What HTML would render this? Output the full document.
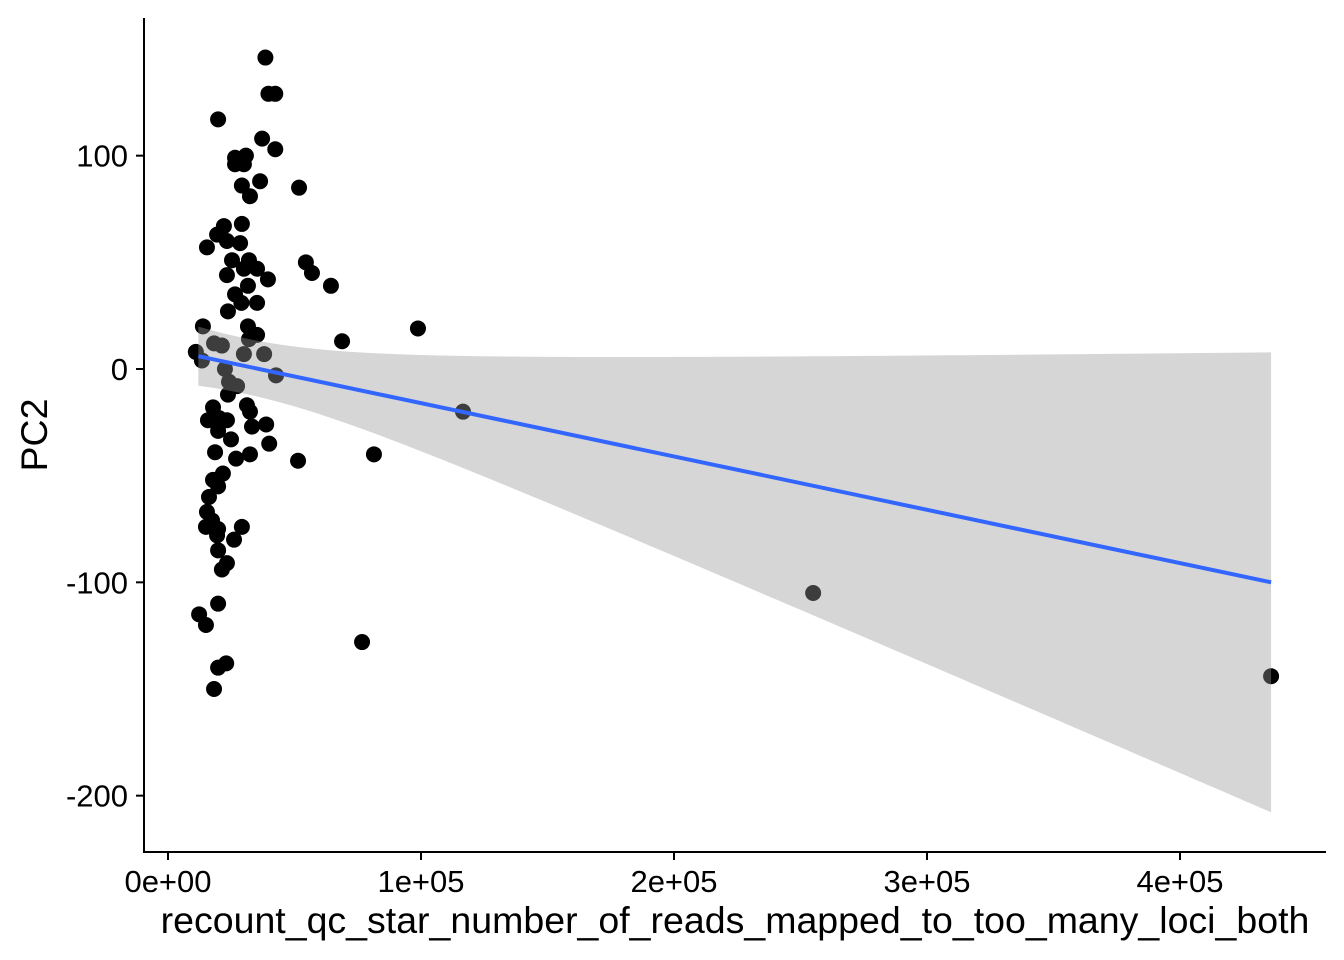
<!DOCTYPE html>
<html><head><meta charset="utf-8"><style>
html,body{margin:0;padding:0;background:#fff;}
svg{display:block;font-family:"Liberation Sans",sans-serif;}
</style></head><body>
<svg id="chart" width="1344" height="960"></svg>
<script>
const xVals=[38500,39700,42400,19800,37200,42400,26500,30800,26500,30000,51800,29200,36400,32400,22100,29200,19400,23300,28500,15400,32000,25300,30000,54500,35200,56900,23300,39500,64400,31600,26500,35200,29000,23700,13800,31600,98800,35200,32000,68800,18200,21300,38000,30000,11000,13400,22500,42700,24100,27300,23700,31200,32400,15800,20200,17800,38800,33200,23300,19800,24900,40000,26900,32400,18600,21700,17800,51400,81400,19800,16200,15400,17400,15000,19800,29200,19400,26100,19800,23300,21300,19800,12300,15000,76700,19800,23000,18200,116600,255000,436000];
const yVals=[146,129,129,117,108,103,99,100,96,96,85,86,88,81,67,68,63,60,59,57,51,51,47,50,47,45,44,42,39,39,35,31,31,27,20,20,19,16,14,13,12,11,7,7,8,4,0,-3,-6,-8,-12,-17,-20,-24,-23,-18,-26,-27,-24,-29,-33,-35,-42,-40,-39,-49,-52,-43,-40,-55,-60,-67,-71,-74,-75,-74,-78,-80,-85,-91,-94,-110,-115,-120,-128,-140,-138,-150,-20,-105,-144];
const xTicks=[0,100000,200000,300000,400000];
const xTickLabels=["0e+00","1e+05","2e+05","3e+05","4e+05"];
const yTicks=[100,0,-100,-200];
const yTickLabels=["100","0","-100","-200"];
const fitStart=[12000,6];
const fitEnd=[436000,-100];
const NS="http://www.w3.org/2000/svg";
const svg=document.getElementById('chart');
const X=v=>168+v/100000*253;
const Y=v=>369-v*2.1333;
function mk(t,a,p){const e=document.createElementNS(NS,t);for(const k in a)e.setAttribute(k,a[k]);(p||svg).appendChild(e);return e;}
const pg=mk('g',{});


xVals.forEach((x,i)=>{const c=mk('circle',{cx:X(x),cy:Y(yVals[i]),r:8,fill:'#000'},pg);

});
const slope=(fitEnd[1]-fitStart[1])/(fitEnd[0]-fitStart[0]);
const fy=x=>fitStart[1]+slope*(x-fitStart[0]);
const xm=30000,s0=13,k=107/406000;
const hw=x=>Math.sqrt(s0*s0+Math.pow(k*(x-xm),2));
let up=[],lo=[];
for(let i=0;i<=80;i++){const x=fitStart[0]+(fitEnd[0]-fitStart[0])*i/80;up.push(X(x)+','+Y(fy(x)+hw(x)));lo.unshift(X(x)+','+Y(fy(x)-hw(x)));}
const rib=mk('polygon',{points:up.concat(lo).join(' '),fill:'#999',opacity:0.4});


const ln=mk('line',{x1:X(fitStart[0]),y1:Y(fitStart[1]),x2:X(fitEnd[0]),y2:Y(fitEnd[1]),stroke:'#3366FF','stroke-width':4});


const ya=mk('line',{x1:144,y1:18,x2:144,y2:853,stroke:'#000','stroke-width':2});


const xa=mk('line',{x1:143,y1:852,x2:1326,y2:852,stroke:'#000','stroke-width':2});


xTicks.forEach((v,i)=>{mk('line',{x1:X(v),y1:852,x2:X(v),y2:860,stroke:'#000','stroke-width':2});
const t=mk('text',{x:X(v),y:892,'text-anchor':'middle','font-size':31,fill:'#000'});t.textContent=xTickLabels[i];

});
yTicks.forEach((v,i)=>{mk('line',{x1:136,y1:Y(v),x2:144,y2:Y(v),stroke:'#000','stroke-width':2});
const t=mk('text',{x:128,y:Y(v)+11,'text-anchor':'end','font-size':31,fill:'#000'});t.textContent=yTickLabels[i];

});
const xt=mk('text',{x:735,y:933,'text-anchor':'middle','font-size':37.5,fill:'#000'});xt.textContent='recount_qc_star_number_of_reads_mapped_to_too_many_loci_both';


const yt=mk('text',{x:0,y:0,'text-anchor':'middle','font-size':37.5,fill:'#000',transform:'translate(47,435) rotate(-90)'});yt.textContent='PC2';


</script>
</body></html>
